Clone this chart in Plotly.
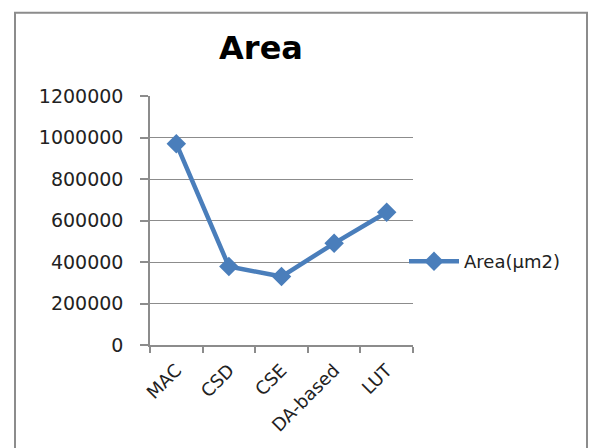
import plotly.graph_objects as go

categories = ["MAC", "CSD", "CSE", "DA-based", "LUT"]
area_values = [970000, 378000, 330000, 490000, 640000]
y_ticks = [0, 200000, 400000, 600000, 800000, 1000000, 1200000]
series_name = "Area(μm2)"
title_text = "Area"

W, H = 589, 448
ML, MR, MT, MB = 150, 176, 96, 101
pw = W - ML - MR
ph = H - MT - MB

blue = "#4A7EBB"
grid = "#8C8C8C"

fig = go.Figure()
fig.add_trace(go.Scatter(
    x=categories, y=area_values, name=series_name,
    mode="lines+markers",
    line=dict(color=blue, width=4.5),
    marker=dict(symbol="diamond", size=15, color=blue),
))

def px_x(p):
    return (p - ML) / pw

def px_y(p):
    return (H - MB - p) / ph

fig.update_layout(
    width=W, height=H, autosize=False,
    margin=dict(l=ML, r=MR, t=MT, b=MB, pad=0),
    paper_bgcolor="white", plot_bgcolor="white",
    font=dict(family="DejaVu Sans", size=16, color="#222222"),
    title=dict(text="<b>%s</b>" % title_text, font=dict(family="DejaVu Sans", size=32, color="#000000"),
               x=px_x(261), xref="paper", xanchor="center",
               y=1 - 48 / H, yref="container", yanchor="middle"),
    showlegend=True,
    legend=dict(x=px_x(404), y=px_y(263), xref="paper", yref="paper",
                xanchor="left", yanchor="middle",
                font=dict(family="DejaVu Sans", size=18, color="#222222"),
                bgcolor="rgba(0,0,0,0)", itemwidth=50),
    xaxis=dict(
        type="category", range=[-0.5, 4.5],
        showline=True, linecolor=grid, linewidth=1.5,
        ticks="outside", tickson="boundaries", ticklen=6, tickcolor=grid, tickwidth=1.5,
        tickangle=-45, showgrid=False,
        ticklabelstandoff=6,
        tickfont=dict(family="DejaVu Sans", size=18, color="#222222"),
    ),
    yaxis=dict(
        range=[0, 1200000], tickvals=y_ticks,
        ticktext=[str(v) for v in y_ticks],
        showline=True, linecolor=grid, linewidth=1.5,
        ticks="outside", ticklen=8, tickcolor=grid, tickwidth=1.5,
        showgrid=True, gridcolor=grid, gridwidth=1.2,
        zeroline=False,
        ticklabelstandoff=13,
        tickfont=dict(family="DejaVu Sans", size=19, color="#222222"),
    ),
    shapes=[dict(type="rect", xref="paper", yref="paper",
                 x0=px_x(15), x1=px_x(587), y0=px_y(460), y1=px_y(12),
                 line=dict(color="#8C8C8C", width=2), fillcolor="rgba(0,0,0,0)",
                 layer="below")],
)

fig.write_html("out.html")
